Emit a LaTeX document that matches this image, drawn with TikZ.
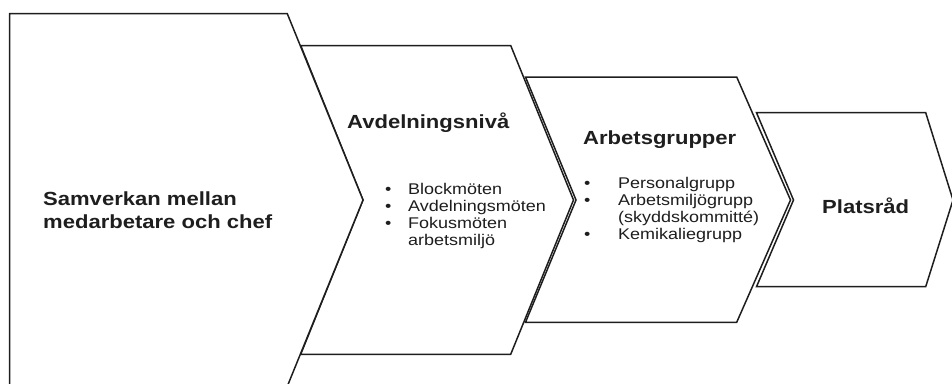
\documentclass[tikz,border=0pt]{standalone}
\usepackage{fontspec}
\setmainfont{Liberation Sans}[FakeStretch=1.16]
\definecolor{ink}{HTML}{1E1E1E}
\tikzset{
  chev/.style={draw=ink, line width=1.5pt, line join=miter, fill=white},
  head/.style={anchor=base west, inner sep=0pt, font=\fontsize{19}{23}\selectfont\bfseries, text=ink, align=left},
  bul/.style={anchor=base west, inner sep=0pt, font=\fontsize{15.5}{17}\selectfont, text=ink, align=left},
}
\begin{document}
\begin{tikzpicture}[x=1pt,y=-1pt]
\useasboundingbox (0,0) rectangle (952,383);
\begin{scope}
\clip (0,0) rectangle (952,383);
% shape 4 (back)
\draw[chev] (756.5,112.7) -- (925.7,112.7) -- (953,200) -- (925.7,286.7) -- (756.5,286.7) -- (793.5,200) -- cycle;
% shape 3
\draw[chev] (525.5,77) -- (736.7,77) -- (790.5,200) -- (736.7,322.3) -- (525.5,322.3) -- (576,200) -- cycle;
% shape 2
\draw[chev] (300.7,45.5) -- (510.7,45.5) -- (573.5,200) -- (510.7,354.3) -- (300.7,354.3) -- (363,200) -- cycle;
% shape 1 (front)
\draw[chev] (9.5,13.7) -- (287.3,13.7) -- (363,200) -- (287.3,386.3) -- (9.5,386.3) -- cycle;
\end{scope}
% anchors are at the baseline of the LAST line of each text block
\node[head] (t1) at (43,228) {Samverkan mellan\\medarbetare och chef};
\node[head] (t2) at (347,128) {Avdelningsnivå};
\node[bul] (b2) at (385,245) {\makebox[23pt][l]{•}Blockmöten\\\makebox[23pt][l]{•}Avdelningsmöten\\\makebox[23pt][l]{•}Fokusmöten\\\makebox[23pt][l]{}arbetsmiljö};
\node[head] (t3) at (583,144) {Arbetsgrupper};
\node[bul] (b3) at (584,239) {\makebox[34pt][l]{•}Personalgrupp\\\makebox[34pt][l]{•}Arbetsmiljögrupp\\\makebox[34pt][l]{}(skyddskommitté)\\\makebox[34pt][l]{•}Kemikaliegrupp};
\node[head] (t4) at (822,213) {Platsråd};
\end{tikzpicture}
\end{document}
